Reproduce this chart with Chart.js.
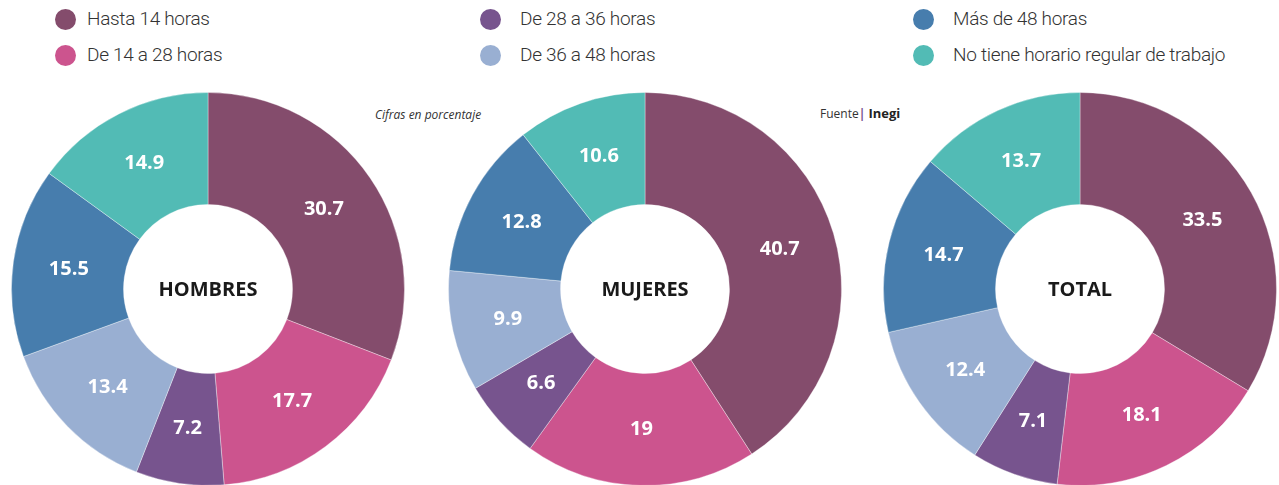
<!DOCTYPE html>
<html lang="es">
<head>
<meta charset="utf-8">
<title>Horas trabajadas</title>
<script src="https://cdn.jsdelivr.net/npm/chart.js@4.4.1/dist/chart.umd.min.js"></script>
<style>
    html, body { margin: 0; padding: 0; background: #fff; overflow: hidden; }
    #wrap { position: relative; width: 1279px; height: 485px; }
    canvas { position: absolute; }
    .legend { position: absolute; left: 0; top: 0; width: 1279px; height: 80px; font-family: Roboto, sans-serif; font-weight: 300; font-size: 19px; color: #333; letter-spacing: -0.3px; }
    .dot { position: absolute; width: 21px; height: 21px; border-radius: 50%; }
    .txt { position: absolute; white-space: nowrap; line-height: 24px; }
    .note { position: absolute; font-family: "Open Sans", sans-serif; font-size: 12px; color: #333; white-space: nowrap; }
</style>
</head>
<body>
<div id="wrap">
    <div class="legend" id="legend"></div>
    <div class="note" style="left:375px; top:106px; font-style:italic;">Cifras en porcentaje</div>
    <div class="note" style="left:820px; top:104px;">Fuente<span style="color:#77548e; font-weight:700;">|</span> <b style="color:#222; font-size:13px;">Inegi</b></div>
    <canvas id="hombresChart" width="394" height="394" style="left:11px; top:92px;"></canvas>
    <canvas id="mujeresChart" width="394" height="394" style="left:448px; top:92px;"></canvas>
    <canvas id="totalChart" width="394" height="394" style="left:883px; top:92px;"></canvas>
</div>
<script>
let categories = ["Hasta 14 horas", "De 14 a 28 horas", "De 28 a 36 horas", "De 36 a 48 horas", "Más de 48 horas", "No tiene horario regular de trabajo"];
let hombres = [30.7, 17.7, 7.2, 13.4, 15.5, 14.9];
let mujeres = [40.7, 19, 6.6, 9.9, 12.8, 10.6];
let total = [33.5, 18.1, 7.1, 12.4, 14.7, 13.7];
let chartColors = ["#844c6c", "#cc548e", "#77548e", "#99afd2", "#477dad", "#52bbb5"];

// legend goes column by column, two rows each
let legendSlots = [
    { dot: 55, text: 87, y: 9 }, { dot: 55, text: 87, y: 45 },
    { dot: 480, text: 520, y: 9 }, { dot: 480, text: 520, y: 45 },
    { dot: 913, text: 953, y: 9 }, { dot: 913, text: 953, y: 45 },
];

function buildLegend() {
    let legend = document.getElementById("legend");
    categories.forEach((label, i) => {
        let slot = legendSlots[i];
        let dot = document.createElement("span");
        dot.className = "dot";
        dot.style.left = slot.dot + "px";
        dot.style.top = slot.y + "px";
        dot.style.background = chartColors[i];
        let txt = document.createElement("span");
        txt.className = "txt";
        txt.style.left = slot.text + "px";
        txt.style.top = (slot.y - 2) + "px";
        txt.textContent = label;
        legend.appendChild(dot);
        legend.appendChild(txt);
    });
}

const sliceLabels = {
    id: 'sliceLabels',
    afterDatasetsDraw(chart, args, options) {
        let ctx = chart.ctx;
        let meta = chart.getDatasetMeta(0);
        let values = chart.data.datasets[0].data;
        ctx.save();
        ctx.textAlign = 'center';
        ctx.textBaseline = 'middle';
        ctx.font = '700 20px "Open Sans"';
        ctx.fillStyle = '#fff';
        meta.data.forEach((arc, i) => {
            let p = arc.getProps(['x', 'y', 'startAngle', 'endAngle', 'innerRadius', 'outerRadius'], true);
            let a = (p.startAngle + p.endAngle) / 2;
            let r = (p.innerRadius + p.outerRadius) / 2;
            ctx.fillText(String(values[i]), p.x + Math.cos(a) * r, p.y + Math.sin(a) * r);
        });
        ctx.fillStyle = '#1a1a1a';
        ctx.fillText(options.title, meta.data[0].x, meta.data[0].y + 1);
        ctx.restore();
    }
};

function buildDoughnut(id, title, values) {
    let ctx = document.getElementById(id);
    new Chart(ctx, {
        type: "doughnut",
        data: {
            labels: categories,
            datasets: [{
                data: values,
                backgroundColor: chartColors,
                borderColor: "rgba(255, 255, 255, 0.35)",
                borderWidth: 1,
            }],
        },
        options: {
            responsive: false,
            animation: false,
            cutout: "43%",
            layout: { padding: 0 },
            plugins: {
                legend: { display: false },
                tooltip: { enabled: false },
                sliceLabels: { title: title },
            },
        },
        plugins: [sliceLabels],
    });
}

document.fonts.load('700 20px "Open Sans"').finally(() => {
    buildLegend();
    buildDoughnut("hombresChart", "HOMBRES", hombres);
    buildDoughnut("mujeresChart", "MUJERES", mujeres);
    buildDoughnut("totalChart", "TOTAL", total);
});
</script>
</body>
</html>
